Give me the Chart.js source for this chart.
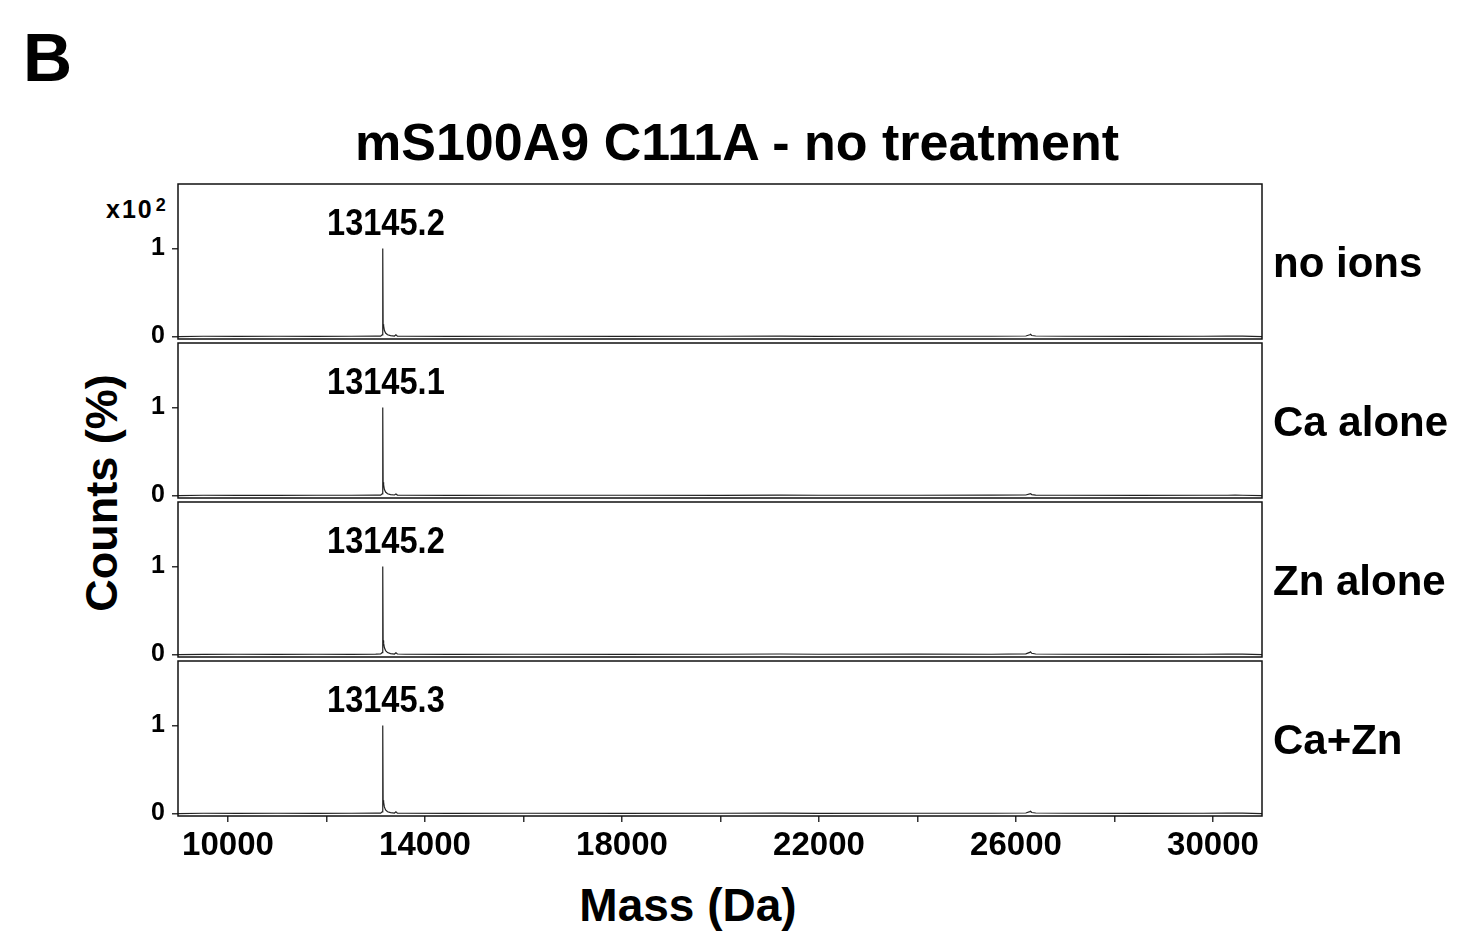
<!DOCTYPE html>
<html>
<head>
<meta charset="utf-8">
<script src="https://cdn.jsdelivr.net/npm/chart.js@4.4.1/dist/chart.umd.min.js"></script>
<style>
    body { margin: 0; background: #fff; }
    #wrap { position: relative; width: 1464px; height: 932px; overflow: hidden; background: #fff; }
    #wrap canvas { position: absolute; left: 0; }
    .txt { position: absolute; font-family: "Liberation Sans", Arial, sans-serif; font-weight: bold; line-height: 1; white-space: nowrap; color: #000; }
</style>
</head>
<body>
<div id="wrap">
    <div class="txt" style="left:23px; top:23px; font-size:68px;">B</div>
    <div class="txt" style="left:737px; top:116px; font-size:52px; transform:translateX(-50%);">mS100A9 C111A - no treatment</div>
    <div class="txt" style="left:101px; top:493px; font-size:45px; transform:translate(-50%,-50%) rotate(-90deg);">Counts (%)</div>
    <div class="txt" style="left:688px; top:882px; font-size:46px; transform:translateX(-50%);">Mass (Da)</div>
    <div class="txt" style="left:106px; top:196px; font-size:25px; letter-spacing:2px;">x10<sup style="font-size:18px; vertical-align:7px; margin-left:2px;">2</sup></div>
    <canvas id="p0"></canvas>
    <canvas id="p1"></canvas>
    <canvas id="p2"></canvas>
    <canvas id="p3"></canvas>
</div>
<script>
// spectrum data (mass in Da, counts x10^2 %)
const massDa = [8985, 9500, 10200, 11000, 11800, 12500, 13000, 13100, 13130, 13140, 13145, 13150, 13160, 13175, 13200, 13240, 13300, 13380, 13410, 13440, 13600, 14500, 16000, 18000, 20000, 21200, 22000, 24000, 25500, 26200, 26280, 26295, 26320, 26400, 27000, 28500, 29800, 30300, 30450, 30600, 30995];
const noIons = [0, 0.003, 0.002, 0.003, 0.002, 0.003, 0.004, 0.005, 0.02, 0.15, 1.0, 0.14, 0.12, 0.07, 0.04, 0.02, 0.01, 0.006, 0.02, 0.005, 0.003, 0.002, 0.003, 0.002, 0.003, 0.004, 0.002, 0.003, 0.003, 0.006, 0.02, 0.025, 0.012, 0.006, 0.003, 0.002, 0.003, 0.004, 0.006, 0.004, 0];
const caAlone = [0, 0.003, 0.002, 0.002, 0.003, 0.003, 0.004, 0.005, 0.02, 0.16, 1.0, 0.15, 0.12, 0.07, 0.04, 0.02, 0.01, 0.006, 0.018, 0.005, 0.003, 0.002, 0.003, 0.003, 0.002, 0.004, 0.003, 0.003, 0.004, 0.006, 0.018, 0.022, 0.011, 0.005, 0.003, 0.002, 0.003, 0.003, 0.005, 0.003, 0];
const znAlone = [0, 0.002, 0.003, 0.002, 0.003, 0.002, 0.004, 0.006, 0.022, 0.17, 1.0, 0.16, 0.13, 0.08, 0.045, 0.022, 0.011, 0.006, 0.02, 0.006, 0.003, 0.002, 0.003, 0.002, 0.003, 0.006, 0.003, 0.005, 0.003, 0.007, 0.024, 0.03, 0.014, 0.006, 0.003, 0.002, 0.003, 0.004, 0.006, 0.004, 0];
const caZn = [0, 0.003, 0.002, 0.003, 0.002, 0.003, 0.004, 0.005, 0.02, 0.16, 1.0, 0.15, 0.13, 0.075, 0.04, 0.02, 0.01, 0.006, 0.02, 0.005, 0.003, 0.002, 0.003, 0.002, 0.003, 0.004, 0.002, 0.003, 0.003, 0.006, 0.022, 0.026, 0.012, 0.006, 0.003, 0.002, 0.003, 0.004, 0.006, 0.004, 0];

const panelSeries = [noIons, caAlone, znAlone, caZn];
const panelNames = ["no ions", "Ca alone", "Zn alone", "Ca+Zn"];
const peakMasses = [13145.2, 13145.1, 13145.2, 13145.3];
const peakLabels = ["13145.2", "13145.1", "13145.2", "13145.3"];

const yTicks = [0, 1];
const xTicks = [10000, 12000, 14000, 16000, 18000, 20000, 22000, 24000, 26000, 28000, 30000];
const xLabels = [10000, 14000, 18000, 22000, 26000, 30000];

// layout of the four panels (plot area, px)
const panelTop = [184, 343, 502, 661];
const panelBottom = [339, 498, 657, 816];
const pad = 30;
const xAxisHeight = 60;

// frame + peak label + right side label
const panelDeco = {
    id: "panelDeco",
    afterDraw(chart, args, opts) {
        const ctx = chart.ctx;
        const a = chart.chartArea;
        const xs = chart.scales.x;
        const ys = chart.scales.y;
        ctx.save();
        ctx.strokeStyle = "#111";
        ctx.lineWidth = 1.5;
        ctx.strokeRect(a.left, a.top, a.right - a.left, a.bottom - a.top);

        // peak mass label
        const px = xs.getPixelForValue(opts.peakMass) + 3;
        const py = ys.getPixelForValue(1) - 14;
        ctx.fillStyle = "#000";
        ctx.font = "bold 37px 'Liberation Sans', Arial, sans-serif";
        ctx.textAlign = "center";
        ctx.textBaseline = "alphabetic";
        ctx.translate(px, py);
        ctx.scale(0.88, 1);
        ctx.fillText(opts.peakText, 0, 0);
        ctx.restore();

        // condition label on the right
        ctx.save();
        ctx.fillStyle = "#000";
        ctx.font = "bold 42px 'Liberation Sans', Arial, sans-serif";
        ctx.textAlign = "left";
        ctx.textBaseline = "alphabetic";
        ctx.fillText(opts.label, a.right + 11, (a.top + a.bottom) / 2 + 15);
        ctx.restore();
    },
};

const tickFont = { family: "'Liberation Sans', Arial, sans-serif", weight: "bold", size: 25 };

panelSeries.forEach((vals, i) => {
    const isLast = i === panelSeries.length - 1;
    const canvas = document.getElementById("p" + i);
    const h = panelBottom[i] - panelTop[i] + pad + (isLast ? xAxisHeight : pad);
    canvas.width = 1464;
    canvas.height = h;
    canvas.style.top = panelTop[i] - pad + "px";

    const xScale = {
        type: "linear",
        min: 8985,
        max: 30995,
        display: isLast,
        afterBuildTicks: (s) => {
            s.ticks = xTicks.map((v) => ({ value: v }));
        },
        afterFit: (s) => {
            if (isLast) s.height = xAxisHeight;
        },
        ticks: {
            autoSkip: false,
            maxRotation: 0,
            padding: 4,
            color: "#000",
            font: { family: "'Liberation Sans', Arial, sans-serif", weight: "bold", size: 33 },
            callback: (v) => (xLabels.includes(v) ? String(v) : ""),
        },
        grid: { drawOnChartArea: false, tickLength: 6, color: "#333", lineWidth: 1.5 },
        border: { display: false },
    };

    new Chart(canvas.getContext("2d"), {
        type: "line",
        data: {
            datasets: [
                {
                    data: massDa.map((m, k) => ({ x: m, y: vals[k] })),
                    borderColor: "#222",
                    borderWidth: 1.2,
                    pointRadius: 0,
                    tension: 0,
                    fill: false,
                },
            ],
        },
        plugins: [panelDeco],
        options: {
            responsive: false,
            animation: false,
            devicePixelRatio: 1,
            layout: { padding: { left: 0, right: 202, top: pad, bottom: isLast ? 0 : pad } },
            plugins: {
                legend: { display: false },
                tooltip: { enabled: false },
                panelDeco: { label: panelNames[i], peakText: peakLabels[i], peakMass: peakMasses[i] },
            },
            scales: {
                x: xScale,
                y: {
                    min: -0.028,
                    max: 1.733,
                    afterBuildTicks: (s) => {
                        s.ticks = yTicks.map((v) => ({ value: v }));
                    },
                    afterFit: (s) => {
                        s.width = 178;
                    },
                    ticks: { color: "#000", font: tickFont, padding: 7 },
                    grid: { drawOnChartArea: false, tickLength: 6, color: "#333", lineWidth: 1.5 },
                    border: { display: false },
                },
            },
        },
    });
});
</script>
</body>
</html>
